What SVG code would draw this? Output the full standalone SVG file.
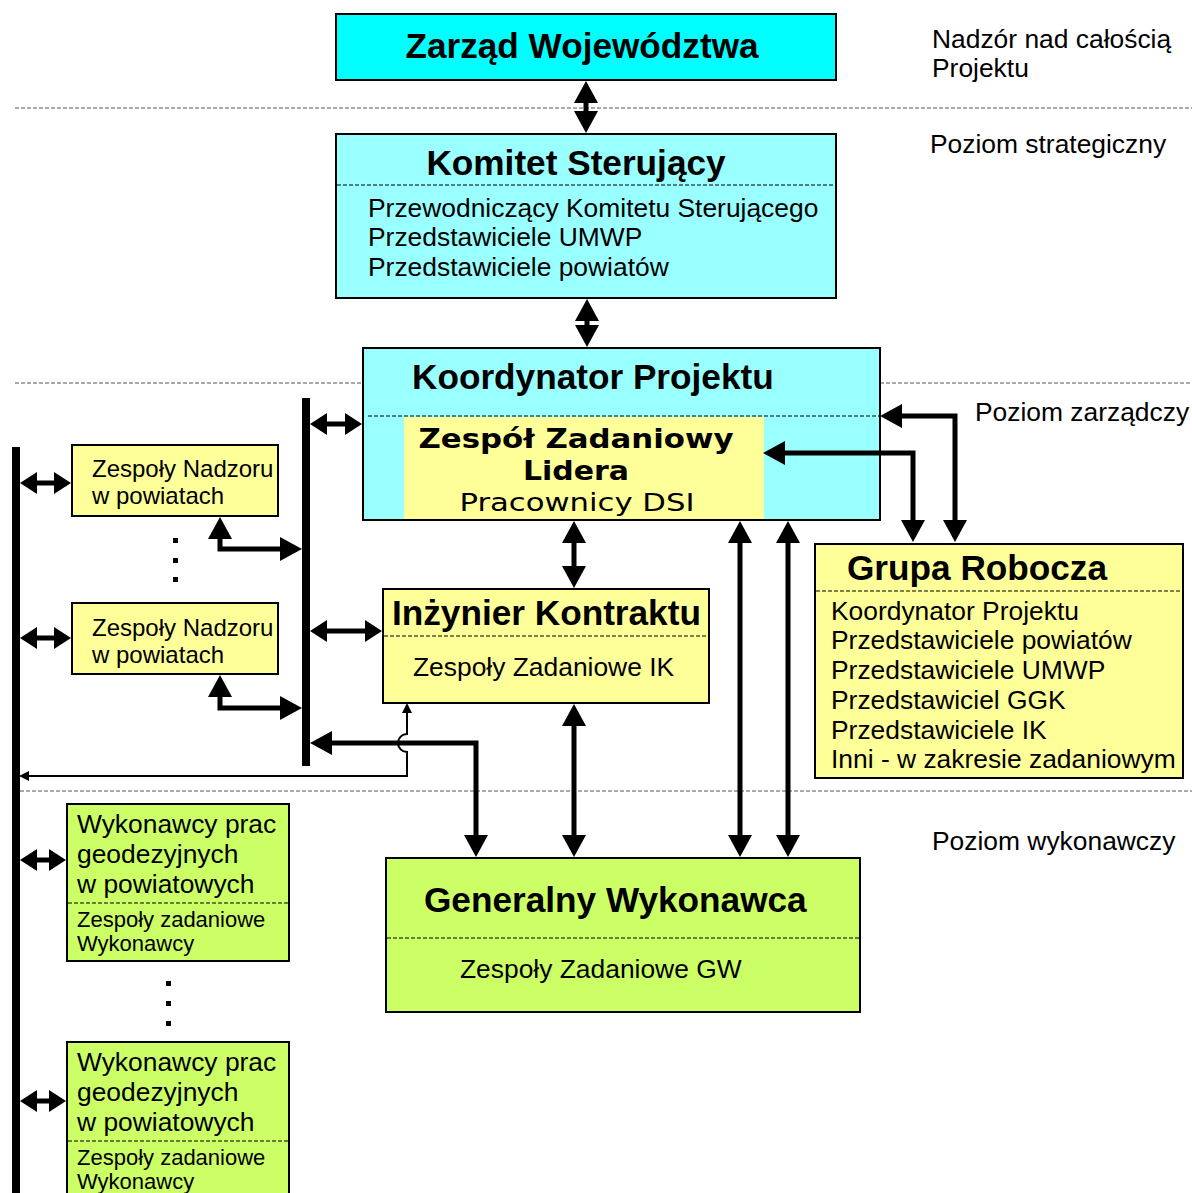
<svg xmlns="http://www.w3.org/2000/svg" width="1192" height="1193" viewBox="0 0 1192 1193">
<style>
.box{stroke:#000;stroke-width:2}
.cy{fill:#00FFFF}.lc{fill:#99FFFF}.ye{fill:#FFFF99}.gr{fill:#CCFF66}
.sep{stroke:#000;stroke-width:1;stroke-dasharray:4,2;fill:none}
.lvl{stroke:#555;stroke-width:1;stroke-dasharray:4,2;fill:none}
text{font-family:"Liberation Sans",Arial,sans-serif;fill:#000}
.t{font-size:35.2px;font-weight:bold}
.b{font-size:26.4px}
.s{font-size:24px}
.xs{font-size:22px}
.v{font-family:"DejaVu Sans",Verdana,sans-serif}
.th{stroke:#000;stroke-width:5;fill:none;stroke-linejoin:miter}
.big{marker-start:url(#ab);marker-end:url(#ab)}
.sm{marker-start:url(#as);marker-end:url(#as)}
.tn{stroke:#000;stroke-width:2;fill:none;marker-start:url(#at);marker-end:url(#at)}
</style>
<defs>
<marker id="ab" viewBox="0 0 22 24" refX="12" refY="12" markerWidth="22" markerHeight="24" markerUnits="userSpaceOnUse" orient="auto-start-reverse"><path d="M0,0 L22,12 L0,24 z"/></marker>
<marker id="as" viewBox="0 0 17 22" refX="7" refY="11" markerWidth="17" markerHeight="22" markerUnits="userSpaceOnUse" orient="auto-start-reverse"><path d="M0,0 L17,11 L0,22 z"/></marker>
<marker id="at" viewBox="0 0 10 10" refX="5" refY="5" markerWidth="10" markerHeight="10" markerUnits="userSpaceOnUse" orient="auto-start-reverse"><path d="M0,0 L10,5 L0,10 z"/></marker>
</defs>
<rect width="1192" height="1193" fill="#fff"/>

<g id="levels">
<line class="lvl" x1="15" y1="108" x2="1192" y2="108"/>
<line class="lvl" x1="15" y1="383" x2="363" y2="383"/>
<line class="lvl" x1="880" y1="383" x2="1192" y2="383"/>
<line class="lvl" x1="20" y1="791" x2="1192" y2="791"/>
<text class="b" x="932" y="48">Nadzór nad całością</text>
<text class="b" x="932" y="77">Projektu</text>
<text class="b" x="930" y="153">Poziom strategiczny</text>
<text class="b" x="975" y="421">Poziom zarządczy</text>
<text class="b" x="932" y="850">Poziom wykonawczy</text>
</g>

<g id="zarzad">
<rect class="box cy" x="336" y="14" width="500" height="66"/>
<text class="t" x="582" y="58" text-anchor="middle">Zarząd Województwa</text>
</g>

<g id="komitet">
<rect class="box lc" x="336" y="134" width="500" height="164"/>
<text class="t" x="576" y="175" text-anchor="middle">Komitet Sterujący</text>
<line class="sep" x1="337" y1="185" x2="835" y2="185"/>
<text class="b" x="368" y="217">Przewodniczący Komitetu Sterującego</text>
<text class="b" x="368" y="246">Przedstawiciele UMWP</text>
<text class="b" x="368" y="276">Przedstawiciele powiatów</text>
</g>

<g id="koordynator">
<rect class="box lc" x="363" y="348" width="517" height="172"/>
<rect class="ye" x="404" y="417" width="360" height="102"/>
<line class="sep" x1="368" y1="416" x2="879" y2="416"/>
<text class="t" x="412" y="389">Koordynator Projektu</text>
<text class="v" x="576" y="448" font-size="27" font-weight="bold" text-anchor="middle" textLength="315" lengthAdjust="spacingAndGlyphs">Zespół Zadaniowy</text>
<text class="v" x="576" y="480" font-size="27" font-weight="bold" text-anchor="middle" textLength="106" lengthAdjust="spacingAndGlyphs">Lidera</text>
<text class="v" x="577" y="511" font-size="25" text-anchor="middle" textLength="235" lengthAdjust="spacingAndGlyphs">Pracownicy DSI</text>
</g>

<g id="nadzor1">
<rect class="box ye" x="72" y="445" width="206" height="71"/>
<text class="s" x="92" y="477">Zespoły Nadzoru</text>
<text class="s" x="92" y="504">w powiatach</text>
</g>

<g id="nadzor2">
<rect class="box ye" x="72" y="603" width="206" height="71"/>
<text class="s" x="92" y="636">Zespoły Nadzoru</text>
<text class="s" x="92" y="663">w powiatach</text>
</g>

<g id="dots">
<rect x="173" y="538" width="5" height="5"/>
<rect x="173" y="558" width="5" height="5"/>
<rect x="173" y="577" width="5" height="5"/>
<rect x="166" y="981" width="5" height="5"/>
<rect x="166" y="1001" width="5" height="5"/>
<rect x="166" y="1021" width="5" height="5"/>
</g>

<g id="inzynier">
<rect class="box ye" x="383" y="589" width="326" height="114"/>
<text class="t" x="392" y="625">Inżynier Kontraktu</text>
<line class="sep" x1="384" y1="636" x2="708" y2="636"/>
<text class="b" x="413" y="676">Zespoły Zadaniowe IK</text>
</g>

<g id="grupa">
<rect class="box ye" x="815" y="544" width="368" height="234"/>
<text class="t" x="847" y="580">Grupa Robocza</text>
<line class="sep" x1="816" y1="591" x2="1182" y2="591"/>
<text class="b" x="831" y="620">Koordynator Projektu</text>
<text class="b" x="831" y="649">Przedstawiciele powiatów</text>
<text class="b" x="831" y="679">Przedstawiciele UMWP</text>
<text class="b" x="831" y="709">Przedstawiciel GGK</text>
<text class="b" x="831" y="739">Przedstawiciele IK</text>
<text class="b" x="831" y="768">Inni - w zakresie zadaniowym</text>
</g>

<g id="generalny">
<rect class="box gr" x="386" y="858" width="474" height="154"/>
<text class="t" x="424" y="912">Generalny Wykonawca</text>
<line class="sep" x1="387" y1="938" x2="859" y2="938"/>
<text class="b" x="460" y="978">Zespoły Zadaniowe GW</text>
</g>

<g id="wykonawcy1">
<rect class="box gr" x="67" y="804" width="222" height="157"/>
<text class="b" x="77" y="833">Wykonawcy prac</text>
<text class="b" x="77" y="863">geodezyjnych</text>
<text class="b" x="77" y="893">w powiatowych</text>
<line class="sep" x1="68" y1="903" x2="288" y2="903"/>
<text class="xs" x="77" y="927">Zespoły zadaniowe</text>
<text class="xs" x="77" y="951">Wykonawcy</text>
</g>

<g id="wykonawcy2">
<rect class="box gr" x="67" y="1042" width="222" height="160"/>
<text class="b" x="77" y="1071">Wykonawcy prac</text>
<text class="b" x="77" y="1101">geodezyjnych</text>
<text class="b" x="77" y="1131">w powiatowych</text>
<line class="sep" x1="68" y1="1141" x2="288" y2="1141"/>
<text class="xs" x="77" y="1165">Zespoły zadaniowe</text>
<text class="xs" x="77" y="1189">Wykonawcy</text>
</g>

<g id="connectors">
<rect x="12" y="447" width="8" height="746"/>
<rect x="302" y="398" width="8" height="368"/>
<line class="th big" x1="586" y1="91" x2="586" y2="123"/>
<line class="th big" x1="587" y1="309" x2="587" y2="337"/>
<line class="th big" x1="574" y1="531" x2="574" y2="578"/>
<line class="th big" x1="574" y1="714" x2="574" y2="847"/>
<line class="th big" x1="740" y1="531" x2="740" y2="847"/>
<line class="th big" x1="788" y1="531" x2="788" y2="847"/>
<line class="th sm" x1="320" y1="424" x2="352" y2="424"/>
<line class="th sm" x1="320" y1="631" x2="372" y2="631"/>
<line class="th sm" x1="30" y1="483" x2="61" y2="483"/>
<line class="th sm" x1="30" y1="638" x2="61" y2="638"/>
<line class="th sm" x1="30" y1="860" x2="56" y2="860"/>
<line class="th sm" x1="30" y1="1101" x2="56" y2="1101"/>
<polyline class="th big" points="220,527 220,549 292,549"/>
<polyline class="th big" points="220,685 220,708 292,708"/>
<polyline class="th big" points="320,743 476,743 476,847"/>
<polyline class="th big" points="890,416 955,416 955,532"/>
<polyline class="th big" points="773,453 913,453 913,532"/>
<path class="tn" d="M407,708 V734 A9,9 0 0 0 407,752 V776 H24"/>
</g>
</svg>
